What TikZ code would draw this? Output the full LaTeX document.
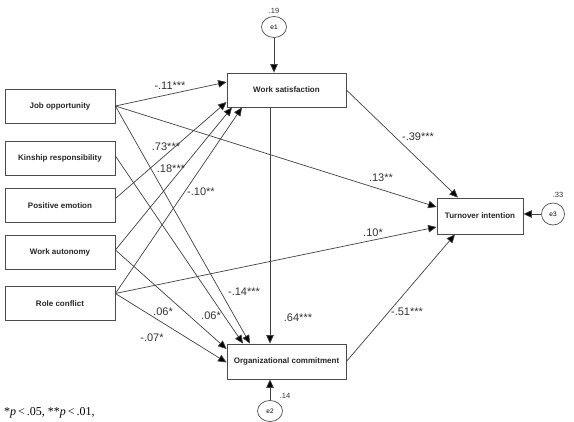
\documentclass[tikz,border=0pt]{standalone}
\usepackage{fontspec}
\setmainfont{Liberation Sans}
\newfontfamily\seriffont{Liberation Serif}
\usetikzlibrary{arrows.meta,calc,shapes.geometric}
\begin{document}
\begin{tikzpicture}[x=1pt,y=-1pt,
  box/.style={draw=black!70,line width=0.8pt,minimum width=110pt,minimum height=34pt,inner sep=0pt,font=\fontsize{8}{9}\selectfont\bfseries,text=black!85},
  err/.style={draw=black!70,line width=0.7pt,ellipse,minimum width=25pt,minimum height=21pt,inner sep=0pt,font=\fontsize{6.5}{7}\selectfont},
  arr/.style={draw=black!75,line width=0.7pt,-{Triangle[length=8.5pt,width=7.5pt,fill=black]}},
  coef/.style={font=\fontsize{11}{12}\selectfont,text=black!80,inner sep=0pt},
  var/.style={font=\fontsize{7.5}{8}\selectfont,text=black!80,inner sep=0pt}]
\useasboundingbox (0,0) rectangle (574,422);
% boxes
\node[box] (jo) at (60,106) {Job opportunity};
\node[box] (kr) at (60,158) {Kinship responsibility};
\node[box] (pe) at (60,205.5) {Positive emotion};
\node[box] (wa) at (60,252) {Work autonomy};
\node[box] (rc) at (60,303.5) {Role conflict};
\node[box,minimum width=119pt] (ws) at (286.5,90) {Work satisfaction};
\node[box,minimum width=119pt,minimum height=35pt] (oc) at (286.5,361.5) {Organizational commitment};
\node[box,minimum width=86pt,minimum height=36pt] (ti) at (480,216) {Turnover intention};
% errors
\node[err] (e1) at (274,27) {e1};
\node[err] (e2) at (270,411) {e2};
\node[err,minimum width=23pt,minimum height=22pt] (e3) at (553,214) {e3};
\node[var] (v1) at (274,11) {.19};
\node[var] (v2) at (285,396) {.14};
\node[var] (v3) at (558,195) {.33};
% connectors
\draw[arr] (jo.east) -- ($(ws.west)+(0,-8)$);
\draw[arr] (jo.east) -- ($(ti.west)+(0,-9)$);
\draw[arr] (jo.east) -- ($(oc.north)+(-36.5,0)$);
\draw[arr] ($(kr.east)+(0,-2)$) -- ($(oc.north)+(-43.5,0)$);
\draw[arr] ($(pe.east)+(0,-7)$) -- ($(ws.west)+(0,12)$);
\draw[arr] ($(wa.east)+(0,-2)$) -- ($(ws.south)+(-54.5,0)$);
\draw[arr] ($(wa.east)+(0,-2)$) -- ($(oc.west)+(0,-12.5)$);
\draw[arr] ($(rc.east)+(0,-10)$) -- ($(ws.south)+(-44.5,0)$);
\draw[arr] ($(rc.east)+(0,-10)$) -- ($(ti.west)+(0,11)$);
\draw[arr] ($(rc.east)+(0,-10)$) -- ($(oc.west)+(0,1)$);
\draw[arr] ($(ws.south)+(-16.5,0)$) -- ($(oc.north)+(-16.5,0)$);
\draw[arr] (ws.east) -- ($(ti.north)+(-22,0)$);
\draw[arr] (oc.east) -- ($(ti.south)+(-25,0)$);
\draw[arr] (e1.south) -- ($(ws.north)+(-12.5,0)$);
\draw[arr] (e2.north) -- ($(oc.south)+(-16.5,0)$);
\draw[arr] (e3.west) -- ($(ti.east)+(0,-2)$);
% coefficients
\node[coef] (c1) at (170,86) {-.11***};
\node[coef] (c2) at (166,147) {.73***};
\node[coef] (c3) at (171,169) {.18***};
\node[coef] (c4) at (201,192) {-.10**};
\node[coef] (c5) at (381,178) {.13**};
\node[coef] (c6) at (373,233) {.10*};
\node[coef] (c7) at (418,137) {-.39***};
\node[coef] (c8) at (244,292) {-.14***};
\node[coef] (c9) at (163,312) {.06*};
\node[coef] (c10) at (211,316) {.06*};
\node[coef] (c11) at (152,338) {-.07*};
\node[coef] (c12) at (298,318) {.64***};
\node[coef] (c13) at (407,312) {-.51***};
% note
\node[anchor=west,inner sep=0pt,font=\seriffont\fontsize{12}{14}\selectfont] (note) at (4,413) {*\textit{p}\,<\,.05, **\textit{p}\,<\,.01,};
\end{tikzpicture}
\end{document}
